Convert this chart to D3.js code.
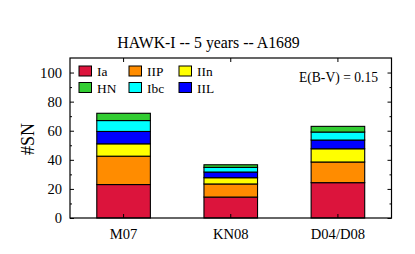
<!DOCTYPE html>
<html>
<head>
<meta charset="utf-8">
<script src="https://cdn.jsdelivr.net/npm/d3@7"></script>
<style>
  body { margin: 0; background: #fff; }
  text { font-family: "Liberation Serif", "DejaVu Serif", serif; fill: #000; }
</style>
</head>
<body>
<div id="chart"></div>
<script>
const width = 415,
    height = 254;

// data
const surveys = ['M07', 'KN08', 'D04/D08'];
const types = ['Ia', 'IIP', 'IIn', 'IIL', 'Ibc', 'HN'];
const Ia  = [23.0, 14.4, 24.3];
const IIP = [19.5, 9.0, 14.2];
const IIn = [8.5, 4.3, 9.1];
const IIL = [8.5, 3.9, 6.0];
const Ibc = [7.5, 3.2, 5.5];
const HN  = [5.0, 1.8, 3.9];
const yTicks = [0, 20, 40, 60, 80, 100];
const legendOrder = ['Ia', 'IIP', 'IIn', 'HN', 'Ibc', 'IIL'];

const colors = {
    Ia: '#dc143c', IIP: '#ff8c00', IIn: '#ffff00',
    IIL: '#0000ff', Ibc: '#00ffff', HN: '#32cd32'
};

const series = { Ia, IIP, IIn, IIL, Ibc, HN };
const table = surveys.map((s, i) => {
    const row = { survey: s };
    types.forEach(t => row[t] = series[t][i]);
    return row;
});

const margin = { top: 58, right: 23.5, bottom: 36, left: 70 };

const svg = d3.select('#chart')
    .append('svg')
    .attr('width', width)
    .attr('height', height);

const x = d3.scaleBand()
    .domain(surveys)
    .range([margin.left, width - margin.right])
    .paddingInner(0.5)
    .paddingOuter(0.25);

const y = d3.scaleLinear()
    .domain([0, 110])
    .range([height - margin.bottom, margin.top]);

const stacked = d3.stack().keys(types)(table);

// bars
svg.append('g')
    .selectAll('g')
    .data(stacked)
    .enter()
    .append('g')
    .attr('fill', d => colors[d.key])
    .selectAll('rect')
    .data(d => d)
    .enter()
    .append('rect')
    .attr('x', d => x(d.data.survey))
    .attr('width', x.bandwidth())
    .attr('y', d => y(d[1]))
    .attr('height', d => y(d[0]) - y(d[1]))
    .attr('stroke', '#000')
    .attr('stroke-width', 1.1);

// axes, ticks pointing inward
const minor = d3.range(10, 110, 20);

svg.append('g')
    .attr('transform', `translate(${margin.left},0)`)
    .call(d3.axisRight(y).tickValues(yTicks).tickSize(4).tickFormat(''))
    .call(g => g.select('.domain').remove());
svg.append('g')
    .attr('transform', `translate(${margin.left},0)`)
    .call(d3.axisRight(y).tickValues(minor).tickSize(2).tickFormat(''))
    .call(g => g.select('.domain').remove());
svg.append('g')
    .attr('transform', `translate(${width - margin.right},0)`)
    .call(d3.axisLeft(y).tickValues(yTicks).tickSize(4).tickFormat(''))
    .call(g => g.select('.domain').remove());
svg.append('g')
    .attr('transform', `translate(${width - margin.right},0)`)
    .call(d3.axisLeft(y).tickValues(minor).tickSize(2).tickFormat(''))
    .call(g => g.select('.domain').remove());

const xc = d => x(d) + x.bandwidth() / 2;
svg.append('g')
    .selectAll('line.bt')
    .data(surveys)
    .enter()
    .append('line')
    .attr('x1', xc).attr('x2', xc)
    .attr('y1', y(0)).attr('y2', y(0) - 4)
    .attr('stroke', '#000');
svg.append('g')
    .selectAll('line.tt')
    .data(surveys)
    .enter()
    .append('line')
    .attr('x1', xc).attr('x2', xc)
    .attr('y1', margin.top).attr('y2', margin.top + 4)
    .attr('stroke', '#000');

// y tick labels
svg.append('g')
    .selectAll('text')
    .data(yTicks)
    .enter()
    .append('text')
    .text(d => d)
    .attr('x', margin.left - 8)
    .attr('y', d => y(d) + 5)
    .attr('text-anchor', 'end')
    .style('font-size', '14.6px');

// x tick labels
svg.append('g')
    .selectAll('text')
    .data(surveys)
    .enter()
    .append('text')
    .text(d => d)
    .attr('x', xc)
    .attr('y', 238.5)
    .attr('text-anchor', 'middle')
    .style('font-size', '14.6px');

// frame
svg.append('rect')
    .attr('x', margin.left)
    .attr('y', margin.top)
    .attr('width', width - margin.right - margin.left)
    .attr('height', y(0) - margin.top)
    .attr('fill', 'none')
    .attr('stroke', '#000')
    .attr('stroke-width', 1.2);

// title and labels
svg.append('text')
    .text('HAWK-I -- 5 years -- A1689')
    .attr('x', 208.5)
    .attr('y', 48)
    .attr('text-anchor', 'middle')
    .style('font-size', '15.8px');

svg.append('text')
    .text('#SN')
    .attr('transform', 'translate(34,139) rotate(-90)')
    .attr('text-anchor', 'middle')
    .style('font-size', '18px');

svg.append('text')
    .text('E(B-V) = 0.15')
    .attr('x', 378)
    .attr('y', 82)
    .attr('text-anchor', 'end')
    .style('font-size', '13.6px');

// legend
const leg = svg.append('g')
    .selectAll('g')
    .data(legendOrder)
    .enter()
    .append('g')
    .attr('transform', (d, i) => `translate(${79 + (i % 3) * 50},${66 + Math.floor(i / 3) * 16.5})`);

leg.append('rect')
    .attr('width', 12.5)
    .attr('height', 10)
    .attr('fill', d => colors[d])
    .attr('stroke', '#000')
    .attr('stroke-width', 1);

leg.append('text')
    .text(d => d)
    .attr('x', 18)
    .attr('y', 10)
    .style('font-size', '13.4px');
</script>
</body>
</html>
